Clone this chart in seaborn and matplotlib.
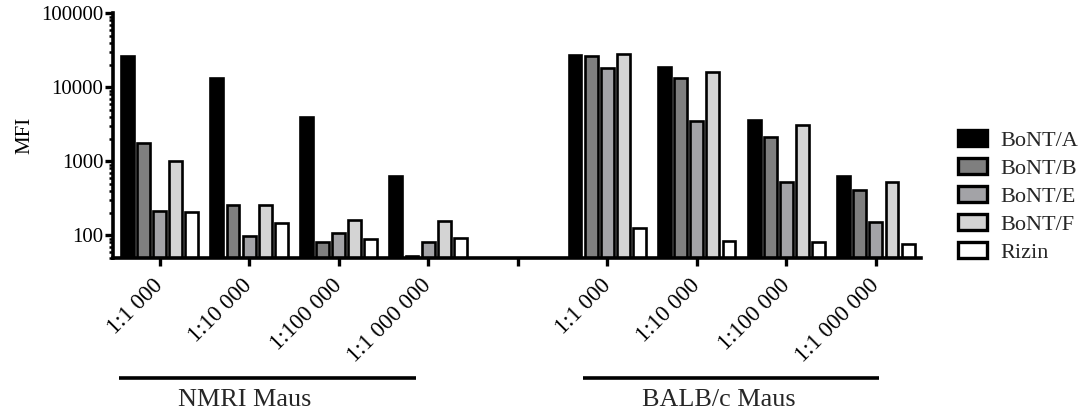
import numpy as np
import pandas as pd
import matplotlib
matplotlib.use("Agg")
import matplotlib.pyplot as plt
import matplotlib.transforms as mtransforms
from matplotlib.ticker import LogLocator, FixedLocator, NullFormatter
import seaborn as sns

# --- data -------------------------------------------------------------
dilutions = ["1:1 000", "1:10 000", "1:100 000", "1:1 000 000"]
strains = ["NMRI Maus", "BALB/c Maus"]
toxins = ["BoNT/A", "BoNT/B", "BoNT/E", "BoNT/F", "Rizin"]

nmri_bont_a = [26300, 13200, 3940, 628]
nmri_bont_b = [1745, 256, 80, 52]
nmri_bont_e = [212, 98, 107, 81]
nmri_bont_f = [1015, 256, 162, 158]
nmri_rizin = [205, 146, 88, 92]

balb_bont_a = [27400, 18800, 3620, 641]
balb_bont_b = [26800, 13500, 2150, 414]
balb_bont_e = [18100, 3550, 531, 149]
balb_bont_f = [28600, 16300, 3070, 520]
balb_rizin = [126, 83, 81, 75]

colors = ["#000000", "#7f7f7f", "#a3a3a7", "#d4d4d4", "#ffffff"]

# --- long-form table --------------------------------------------------
series = {
    "NMRI Maus": [nmri_bont_a, nmri_bont_b, nmri_bont_e, nmri_bont_f, nmri_rizin],
    "BALB/c Maus": [balb_bont_a, balb_bont_b, balb_bont_e, balb_bont_f, balb_rizin],
}
rows = []
for strain in strains:
    for tox, vals in zip(toxins, series[strain]):
        for dil, v in zip(dilutions, vals):
            rows.append({"slot": f"{strain} {dil}", "toxin": tox, "MFI": v})
df = pd.DataFrame(rows)

# category order with an empty slot separating the two strains
order = [f"NMRI Maus {d}" for d in dilutions] + ["gap"] + [f"BALB/c Maus {d}" for d in dilutions]
tick_labels = dilutions + [""] + dilutions

# --- figure -----------------------------------------------------------
sns.set_theme(style="ticks")
plt.rcParams["font.family"] = ["Liberation Serif", "DejaVu Serif"]

fig = plt.figure(figsize=(10.82, 4.15), dpi=100)
ax = fig.add_axes([0.1044, 0.3795, 0.7465, 0.5884])

sns.barplot(
    data=df, x="slot", y="MFI", hue="toxin", order=order, hue_order=toxins,
    palette=colors, width=0.9, gap=0.2, edgecolor="black", linewidth=1.9,
    saturation=1, errorbar=None, ax=ax,
)

ax.set_yscale("log")
ax.set_ylim(50, 100000)
ax.set_xlim(-0.52, 8.5)

ax.yaxis.set_major_locator(FixedLocator([100, 1000, 10000, 100000]))
ax.set_yticklabels(["100", "1000", "10000", "100000"], fontsize=15)
ax.yaxis.set_minor_locator(LogLocator(base=10, subs=np.arange(2, 10), numticks=20))
ax.yaxis.set_minor_formatter(NullFormatter())

ax.set_xticks(range(len(order)))
ax.set_xticklabels(tick_labels, rotation=45, ha="right", va="center",
                   rotation_mode="anchor", fontsize=16.5)

ax.tick_params(axis="both", which="major", direction="out", length=6, width=2.4,
               color="black", labelcolor="black")
ax.tick_params(axis="y", which="minor", direction="out", length=3, width=1.8, color="black")
ax.tick_params(axis="x", pad=12)
ax.tick_params(axis="y", pad=1)

for side in ["top", "right"]:
    ax.spines[side].set_visible(False)
for side in ["left", "bottom"]:
    ax.spines[side].set_linewidth(2.6)
    ax.spines[side].set_color("black")

ax.set_xlabel("")
ax.set_ylabel("MFI", fontsize=15, labelpad=5, color="black")

# legend on the right, thick bordered swatches without a frame
handles, labels = ax.get_legend_handles_labels()
leg = ax.legend(handles, labels, loc="upper left", bbox_to_anchor=(958 / 1082, 1 - 130 / 415),
                bbox_transform=fig.transFigure, frameon=False, fontsize=16,
                handlelength=1.3, handleheight=0.72, handletextpad=0.6,
                labelspacing=0.33, borderaxespad=0, borderpad=0)
for patch in leg.get_patches():
    patch.set_linewidth(2.4)
    patch.set_edgecolor("black")

# strain brackets under the dilution labels
trans = mtransforms.blended_transform_factory(ax.transData, fig.transFigure)
group_spans = [(-0.45, 2.86), (4.73, 8.04)]
group_text_x = [0.95, 6.25]
for strain, (x0, x1), tx in zip(strains, group_spans, group_text_x):
    ax.plot([x0, x1], [0.089, 0.089], color="black", lw=2.6, transform=trans,
            clip_on=False, solid_capstyle="butt")
    ax.text(tx, 0.036, strain, transform=trans, ha="center", va="center", fontsize=18.8)

fig.savefig("out.png", dpi=100)
